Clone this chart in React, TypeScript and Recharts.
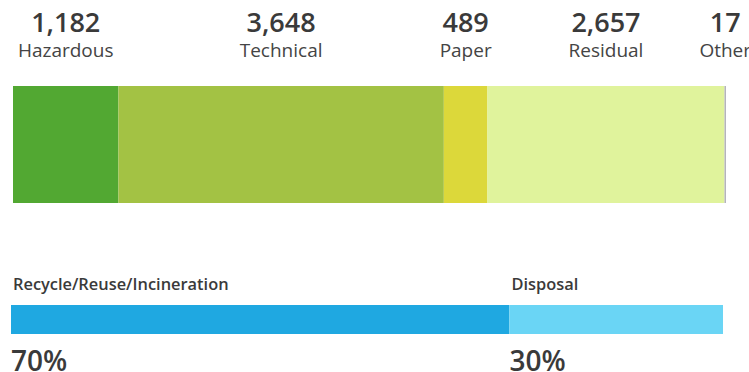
import React from 'react';
import { BarChart, Bar, XAxis, YAxis, LabelList } from 'recharts';

const wasteCategories = ['Hazardous', 'Technical', 'Paper', 'Residual', 'Other'];
const wasteValues = [1182, 3648, 489, 2657, 17];
const wasteColors = ['#52a832', '#a3c244', '#dcd83a', '#e0f39c', '#b4b4bc'];

const treatmentCategories = ['Recycle/Reuse/Incineration', 'Disposal'];
const treatmentShares = [70, 30];
const treatmentColors = ['#1fa8e1', '#6ad5f5'];

const wasteTotal = wasteValues.reduce((a, b) => a + b, 0);
const shareTotal = treatmentShares.reduce((a, b) => a + b, 0);

const wasteRow: Record<string, any> = { name: 'waste' };
wasteCategories.forEach((c, i) => (wasteRow[c] = wasteValues[i]));
const treatmentRow: Record<string, any> = { name: 'treatment' };
treatmentCategories.forEach((c, i) => (treatmentRow[c] = treatmentShares[i]));

const FONT = '"Open Sans", sans-serif';

const makeWasteLabel = (name: string) => (props: any) => {
  const x = Number(props.x);
  const y = Number(props.y);
  const w = Number(props.width);
  const cx = x + w / 2;
  return (
    <g>
      <text x={cx} y={y - 54} textAnchor="middle" fontSize={27} fontWeight={600} fill="#3a3a3a" fontFamily={FONT}>
        {Number(props.value).toLocaleString('en-US')}
      </text>
      <text x={cx} y={y - 29} textAnchor="middle" fontSize={19} fill="#444" fontFamily={FONT}>
        {name}
      </text>
    </g>
  );
};

const makeTreatmentLabel = (name: string) => (props: any) => {
  const x = Number(props.x);
  const y = Number(props.y);
  const h = Number(props.height);
  return (
    <g>
      <text x={x + 2} y={y - 15} textAnchor="start" fontSize={16.4} fontWeight={600} fill="#3a3a3a" fontFamily={FONT}>
        {name}
      </text>
      <text x={x} y={y + h + 37} textAnchor="start" fontSize={28} fontWeight={600} fill="#3a3a3a" fontFamily={FONT}>
        {`${props.value}%`}
      </text>
    </g>
  );
};

export default function App() {
  return (
    <div style={{ position: 'absolute', left: 0, top: 0, width: 749, height: 372, background: '#fff', fontFamily: FONT, overflow: 'hidden' }}>
      <div style={{ position: 'absolute', left: 0, top: 0 }}>
        <BarChart
          width={749}
          height={215}
          data={[wasteRow]}
          layout="vertical"
          margin={{ top: 86, left: 13, right: 23, bottom: 12 }}
          barCategoryGap={0}
        >
          <XAxis type="number" hide domain={[0, wasteTotal]} />
          <YAxis type="category" dataKey="name" hide />
          {wasteCategories.map((c, i) => (
            <Bar key={c} dataKey={c} stackId="a" fill={wasteColors[i]} isAnimationActive={false}>
              <LabelList dataKey={c} content={makeWasteLabel(c)} />
            </Bar>
          ))}
        </BarChart>
      </div>
      <div style={{ position: 'absolute', left: 0, top: 260 }}>
        <BarChart
          width={749}
          height={112}
          data={[treatmentRow]}
          layout="vertical"
          margin={{ top: 45, left: 11, right: 26, bottom: 38 }}
          barCategoryGap={0}
        >
          <XAxis type="number" hide domain={[0, shareTotal]} />
          <YAxis type="category" dataKey="name" hide />
          {treatmentCategories.map((c, i) => (
            <Bar key={c} dataKey={c} stackId="b" fill={treatmentColors[i]} isAnimationActive={false}>
              <LabelList dataKey={c} content={makeTreatmentLabel(c)} />
            </Bar>
          ))}
        </BarChart>
      </div>
    </div>
  );
}
